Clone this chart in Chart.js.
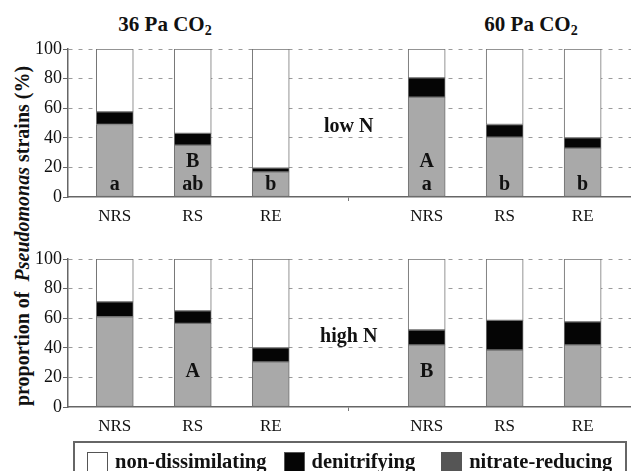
<!DOCTYPE html>
<html lang="en">
<head>
  <meta charset="UTF-8">
  <title>Pseudomonas strains by CO2 and N level</title>
  <script src="https://cdn.jsdelivr.net/npm/chart.js"></script>
  <style>
    html, body { margin: 0; padding: 0; background: #fff; }
    body {
      width: 631px; height: 471px; overflow: hidden; position: relative;
      font-family: "Liberation Serif", "Times New Roman", serif; color: #111;
    }
    .panel { position: absolute; left: 0; width: 631px; }
    #lowBox { top: 0; height: 230px; }
    #highBox { top: 230px; height: 212px; }
    .title {
      position: absolute; top: 12px; font-size: 21px; font-weight: bold;
      line-height: 24px; white-space: nowrap; transform: translateX(-50%);
    }
    .title sub { font-size: 14px; line-height: 0; vertical-align: -4px; }
    #ylabel {
      position: absolute; left: -178px; top: 224px; width: 400px; height: 24px;
      line-height: 24px; text-align: center; font-size: 20px; font-weight: bold;
      white-space: nowrap; transform: rotate(-90deg);
    }
    #legend {
      position: absolute; left: 73px; top: 441px; width: 554px; height: 40px;
      border: 2px solid #666; box-sizing: border-box;
      display: flex; align-items: flex-start; padding: 7px 0 0 12px;
      font-size: 20.5px; font-weight: bold;
    }
    .item { display: flex; align-items: center; white-space: nowrap; }
    .swatch { width: 19px; height: 18px; border: 1px solid #555; margin-right: 7px; }
  </style>
</head>
<body>
  <div class="title" style="left:165px">36 Pa CO<sub>2</sub></div>
  <div class="title" style="left:531px">60 Pa CO<sub>2</sub></div>
  <div id="ylabel">proportion of&nbsp; <i>Pseudomonas</i> strains (%)</div>

  <div class="panel" id="lowBox"><canvas id="lowChart"></canvas></div>
  <div class="panel" id="highBox"><canvas id="highChart"></canvas></div>

  <div id="legend"></div>

  <script>
    // categories (the empty one is the gap between the two CO2 groups)
    const categories = ['NRS', 'RS', 'RE', '', 'NRS', 'RS', 'RE'];
    const seriesNames = ['non-dissimilating', 'denitrifying', 'nitrate-reducing'];
    const yTicks = [0, 20, 40, 60, 80, 100];

    // low N (%)
    const lowNitrate  = [49, 35, 17, null, 67.5, 40.5, 33];
    const lowDenit    = [8.5, 8, 2.5, null, 13, 8.5, 7];
    const lowNonDiss  = [42.5, 57, 80.5, null, 19.5, 51, 60];
    // high N (%)
    const highNitrate = [61, 56.5, 30.5, null, 42, 38.5, 42];
    const highDenit   = [10, 8.5, 9.5, null, 10, 20, 15.5];
    const highNonDiss = [29, 35, 60, null, 48, 41.5, 42.5];

    // significance letters
    const lowLower  = ['a', 'ab', 'b', '', 'a', 'b', 'b'];
    const lowUpper  = ['', 'B', '', '', 'A', '', ''];
    const highLower = ['', '', '', '', '', '', ''];
    const highUpper = ['', 'A', '', '', 'B', '', ''];

    const serif = '"Liberation Serif", "Times New Roman", serif';
    Chart.defaults.font.family = serif;
    Chart.defaults.color = '#111';

    const fillColors = { 'non-dissimilating': '#ffffff', 'denitrifying': '#050505', 'nitrate-reducing': '#a9a9a9' };
    const legendColors = { 'non-dissimilating': '#ffffff', 'denitrifying': '#050505', 'nitrate-reducing': '#555555' };

    // draws the letters and the N label on top of the bars
    const letterPlugin = {
      id: 'letters',
      afterDatasetsDraw(chart, args, opts) {
        const { ctx, scales: { x, y } } = chart;
        ctx.save();
        ctx.font = 'bold 20px ' + serif;
        ctx.fillStyle = '#111';
        ctx.textAlign = 'center';
        ctx.textBaseline = 'alphabetic';
        opts.lower.forEach((t, i) => { if (t) ctx.fillText(t, x.getPixelForValue(i), y.getPixelForValue(5)); });
        opts.upper.forEach((t, i) => { if (t) ctx.fillText(t, x.getPixelForValue(i), y.getPixelForValue(20.3)); });
        ctx.fillText(opts.note, x.getPixelForValue(3), y.getPixelForValue(44));
        ctx.restore();
      }
    };

    function points(arr) {
      return arr.map((v, i) => ({ x: i, y: v })).filter(p => p.y !== null);
    }

    function makeChart(id, nitrate, denit, nonDiss, lower, upper, note, padTop, xHeight) {
      const series = { 'nitrate-reducing': nitrate, 'denitrifying': denit, 'non-dissimilating': nonDiss };
      const order = ['nitrate-reducing', 'denitrifying', 'non-dissimilating'];
      return new Chart(document.getElementById(id), {
        type: 'bar',
        data: {
          datasets: order.map(name => ({
            label: name,
            data: points(series[name]),
            backgroundColor: fillColors[name],
            borderColor: '#707070',
            borderWidth: 1,
            borderSkipped: false,
            barThickness: 37
          }))
        },
        options: {
          responsive: true,
          maintainAspectRatio: false,
          animation: false,
          layout: { padding: { top: padTop, left: 0, right: 0, bottom: 0 } },
          plugins: {
            legend: { display: false },
            tooltip: { enabled: false },
            letters: { lower: lower, upper: upper, note: note }
          },
          scales: {
            x: {
              type: 'linear', min: -0.6, max: 6.62, stacked: true, offset: false,
              afterBuildTicks: s => { s.ticks = categories.map((c, i) => ({ value: i })); },
              afterFit: s => { s.height = xHeight; },
              ticks: { callback: v => categories[v], font: { family: serif, size: 17 }, color: '#111', maxRotation: 0, autoSkip: false, padding: 5 },
              grid: { drawOnChartArea: false, offset: false, tickLength: 4, tickColor: c => c.index === 3 ? '#777' : 'rgba(0,0,0,0)' },
              border: { color: '#666', width: 1.5 }
            },
            y: {
              min: 0, max: 100, stacked: true,
              afterBuildTicks: s => { s.ticks = yTicks.map(v => ({ value: v })); },
              afterFit: s => { s.width = 68; },
              ticks: { font: { family: serif, size: 18 }, color: '#111', padding: 1 },
              grid: {
                color: c => (c.tick && c.tick.value === 0) ? 'rgba(0,0,0,0)' : '#9a9a9a',
                tickColor: '#666', tickLength: 5, lineWidth: 1
              },
              border: { color: '#666', width: 1.5, dash: [4, 6] }
            }
          }
        },
        plugins: [letterPlugin]
      });
    }

    makeChart('lowChart', lowNitrate, lowDenit, lowNonDiss, lowLower, lowUpper, 'low N', 49, 33);
    makeChart('highChart', highNitrate, highDenit, highNonDiss, highLower, highUpper, 'high N', 29, 35);

    // legend built from the series names
    const legend = document.getElementById('legend');
    const gaps = [0, 17, 26];
    seriesNames.forEach((name, i) => {
      const item = document.createElement('div');
      item.className = 'item';
      item.style.marginLeft = gaps[i] + 'px';
      const sw = document.createElement('span');
      sw.className = 'swatch';
      sw.style.background = legendColors[name];
      item.appendChild(sw);
      item.appendChild(document.createTextNode(name));
      legend.appendChild(item);
    });
  </script>
</body>
</html>
